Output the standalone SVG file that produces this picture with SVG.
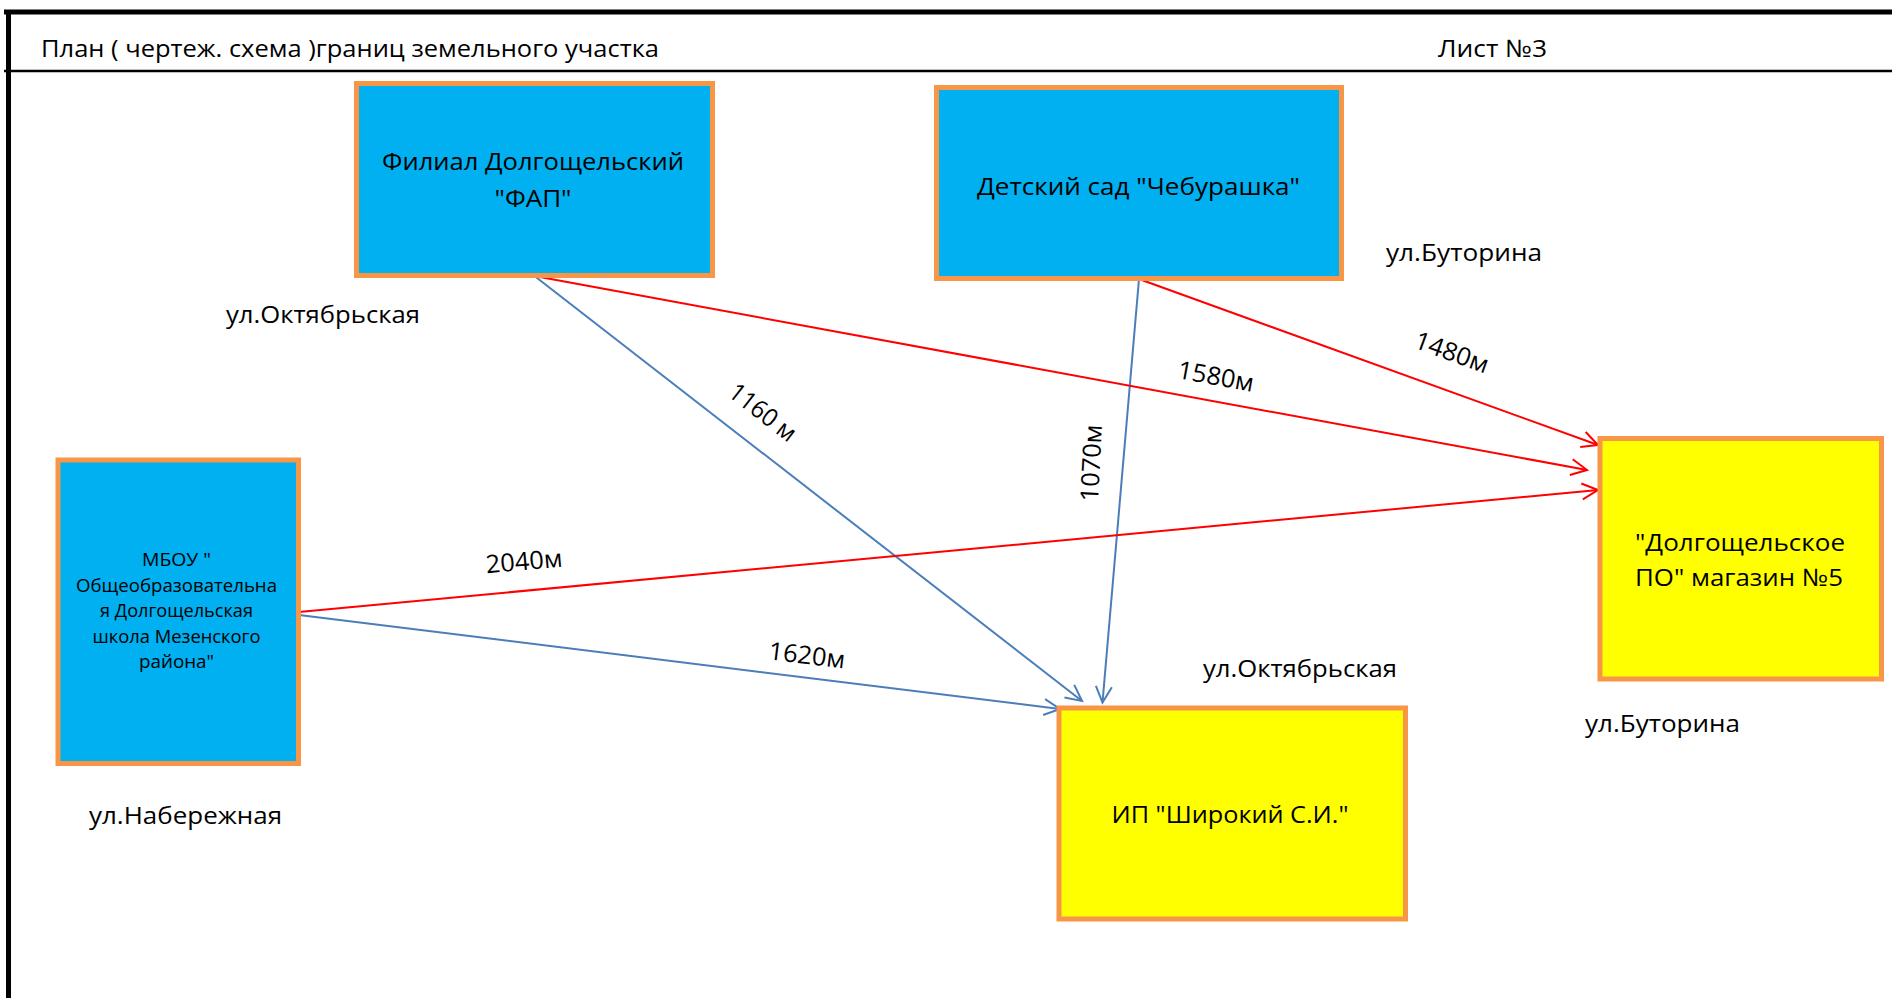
<svg xmlns="http://www.w3.org/2000/svg" width="1892" height="998" viewBox="0 0 1892 998">
<style>
.frame{stroke:#000;fill:none}
.box{stroke:#F79646;stroke-width:5}
.blue{fill:#00B0F0}
.yellow{fill:#FFFF00}
.t{font-family:"Open Sans","Noto Sans","Liberation Sans",sans-serif;fill:#000}
.c{text-anchor:middle}
.lb{stroke:#4A7EBB;stroke-width:2;fill:none}
.lr{stroke:#FF0000;stroke-width:2;fill:none}
</style>
<defs>
<marker id="ab" markerUnits="userSpaceOnUse" markerWidth="24" markerHeight="24" viewBox="-20 -12 24 24" refX="0" refY="0" orient="auto">
<path d="M-16,-8 L0,0 L-16,8" fill="none" stroke="#4A7EBB" stroke-width="2"/>
</marker>
<marker id="ar" markerUnits="userSpaceOnUse" markerWidth="24" markerHeight="24" viewBox="-20 -12 24 24" refX="0" refY="0" orient="auto">
<path d="M-16,-8 L0,0 L-16,8" fill="none" stroke="#FF0000" stroke-width="2"/>
</marker>
</defs>
<rect width="1892" height="998" fill="#fff"/>
<g id="frame">
<line class="frame" x1="4" y1="12" x2="1892" y2="12" stroke-width="5"/>
<line class="frame" x1="8.5" y1="10" x2="8.5" y2="998" stroke-width="5"/>
<line class="frame" x1="4" y1="71" x2="1892" y2="71" stroke-width="2.5"/>
<text class="t" x="41" y="57" font-size="24" textLength="618" lengthAdjust="spacingAndGlyphs">План ( чертеж. схема )границ земельного участка</text>
<text class="t" x="1438" y="57" font-size="24" textLength="109" lengthAdjust="spacingAndGlyphs">Лист №3</text>
</g>
<g id="connectors">
<line class="lb" x1="534.5" y1="276" x2="1082" y2="701" marker-end="url(#ab)"/>
<line class="lb" x1="1139" y1="279" x2="1102.5" y2="702.5" marker-end="url(#ab)"/>
<line class="lb" x1="299" y1="615" x2="1060" y2="709" marker-end="url(#ab)"/>
<line class="lr" x1="534.5" y1="276" x2="1587" y2="470" marker-end="url(#ar)"/>
<line class="lr" x1="1139" y1="279" x2="1598" y2="445" marker-end="url(#ar)"/>
<line class="lr" x1="299" y1="612" x2="1598" y2="490" marker-end="url(#ar)"/>
<text class="t c" font-size="25" transform="translate(763,412) rotate(37.8)" y="9" textLength="78" lengthAdjust="spacingAndGlyphs">1160 м</text>
<text class="t c" font-size="25" transform="translate(1091,463) rotate(-87)" y="9" textLength="77" lengthAdjust="spacingAndGlyphs">1070м</text>
<text class="t c" font-size="25" transform="translate(1216,376) rotate(10.4)" y="9" textLength="77" lengthAdjust="spacingAndGlyphs">1580м</text>
<text class="t c" font-size="25" transform="translate(1452,352) rotate(20)" y="9" textLength="77" lengthAdjust="spacingAndGlyphs">1480м</text>
<text class="t c" font-size="25" transform="translate(524,561) rotate(-5)" y="9" textLength="77" lengthAdjust="spacingAndGlyphs">2040м</text>
<text class="t c" font-size="25" transform="translate(807,655) rotate(7)" y="9" textLength="77" lengthAdjust="spacingAndGlyphs">1620м</text>
</g>
<g id="node-fap">
<rect class="box blue" x="356.5" y="83.5" width="356" height="192"/>
<text class="t c" x="533" y="170" font-size="24" textLength="302" lengthAdjust="spacingAndGlyphs">Филиал Долгощельский</text>
<text class="t c" x="533" y="207" font-size="24" textLength="77" lengthAdjust="spacingAndGlyphs">"ФАП"</text>
</g>
<g id="node-sad">
<rect class="box blue" x="936.5" y="87.5" width="405" height="191"/>
<text class="t c" x="1138.5" y="195" font-size="24" textLength="323" lengthAdjust="spacingAndGlyphs">Детский сад "Чебурашка"</text>
</g>
<g id="node-school">
<rect class="box blue" x="58" y="460" width="240.5" height="303.5"/>
<text class="t c" x="176.5" y="566" font-size="18" textLength="69" lengthAdjust="spacingAndGlyphs">МБОУ "</text>
<text class="t c" x="176.5" y="591.5" font-size="18" textLength="201" lengthAdjust="spacingAndGlyphs">Общеобразовательна</text>
<text class="t c" x="176.5" y="617" font-size="18" textLength="153" lengthAdjust="spacingAndGlyphs">я Долгощельская</text>
<text class="t c" x="176.5" y="642.5" font-size="18" textLength="168" lengthAdjust="spacingAndGlyphs">школа Мезенского</text>
<text class="t c" x="176.5" y="668" font-size="18" textLength="75" lengthAdjust="spacingAndGlyphs">района"</text>
</g>
<g id="node-po">
<rect class="box yellow" x="1600" y="438.5" width="281.5" height="240.5"/>
<text class="t c" x="1740" y="551" font-size="24" textLength="210" lengthAdjust="spacingAndGlyphs">"Долгощельское</text>
<text class="t c" x="1739" y="586" font-size="24" textLength="208" lengthAdjust="spacingAndGlyphs">ПО" магазин №5</text>
</g>
<g id="node-ip">
<rect class="box yellow" x="1059" y="708" width="346.5" height="211"/>
<text class="t c" x="1230" y="823" font-size="24" textLength="237" lengthAdjust="spacingAndGlyphs">ИП "Широкий С.И."</text>
</g>
<g id="streets">
<text class="t" x="226" y="323" font-size="24" textLength="194" lengthAdjust="spacingAndGlyphs">ул.Октябрьская</text>
<text class="t" x="1386" y="261" font-size="24" textLength="156" lengthAdjust="spacingAndGlyphs">ул.Буторина</text>
<text class="t" x="89" y="824" font-size="24" textLength="193" lengthAdjust="spacingAndGlyphs">ул.Набережная</text>
<text class="t" x="1203" y="677" font-size="24" textLength="194" lengthAdjust="spacingAndGlyphs">ул.Октябрьская</text>
<text class="t" x="1585" y="732" font-size="24" textLength="155" lengthAdjust="spacingAndGlyphs">ул.Буторина</text>
</g>
</svg>
